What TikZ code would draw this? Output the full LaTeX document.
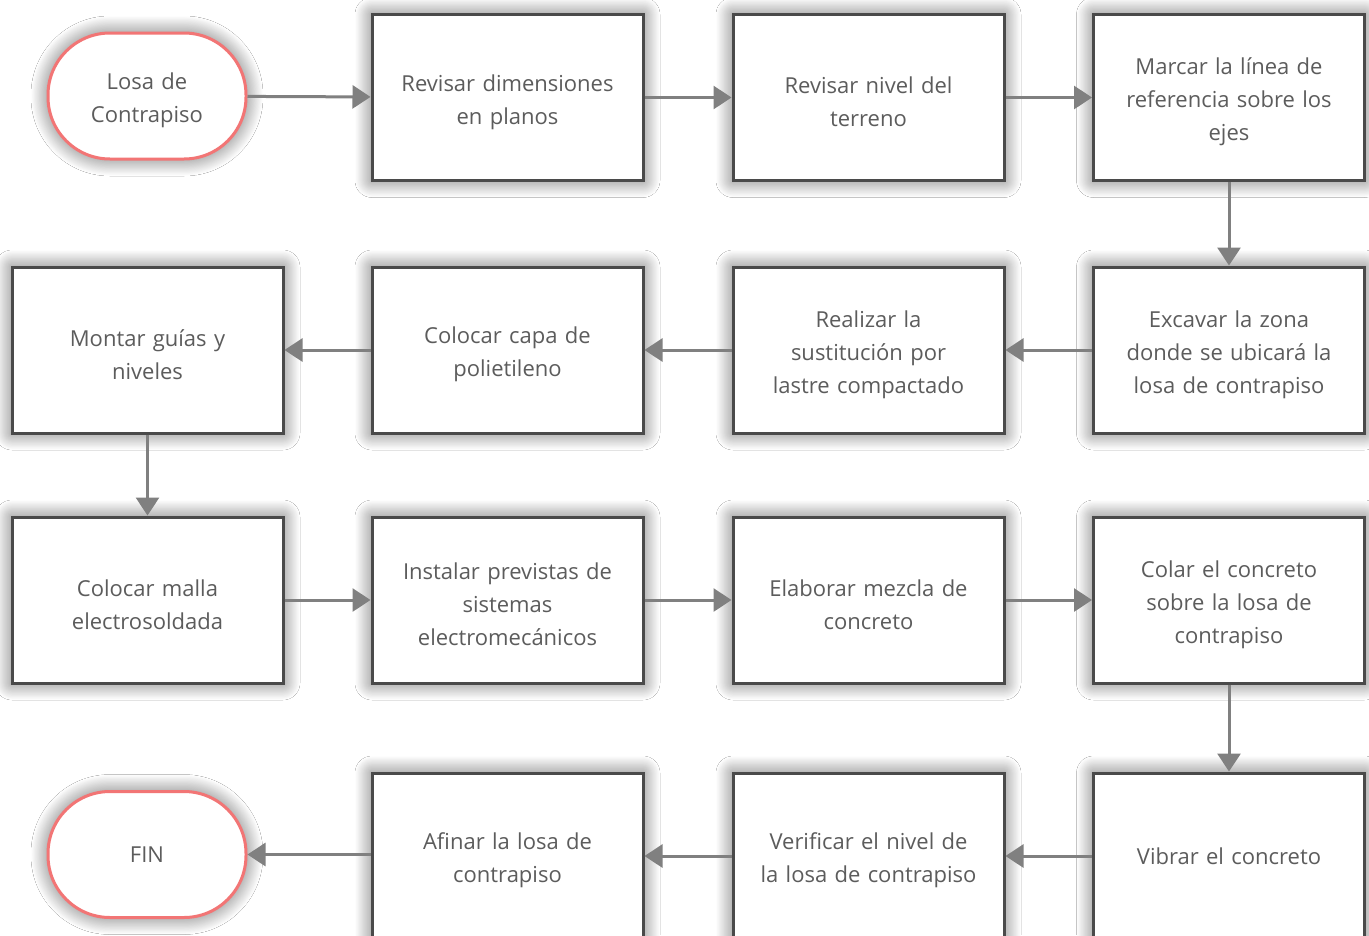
\documentclass[tikz,border=0pt]{standalone}
\usepackage{fontspec}
\setmainfont{Open Sans}
\usetikzlibrary{arrows.meta,shadows.blur}
\definecolor{boxline}{HTML}{4A4A4A}
\definecolor{txt}{HTML}{5C5C5C}
\definecolor{arr}{HTML}{808080}
\definecolor{term}{HTML}{F27575}
\begin{document}
\begin{tikzpicture}[x=1pt,y=-1pt,
  softshadow/.style={blur shadow={shadow xshift=0pt, shadow yshift=0pt, shadow blur radius=17pt,
    shadow blur steps=30, shadow opacity=60}},
  basebox/.style={draw=boxline, line width=3pt, fill=white, minimum width=271pt, minimum height=166pt,
    text width=262pt, align=center, inner sep=0pt, text=txt, font=\fontsize{22}{33}\selectfont, softshadow},
  stepbox/.style={basebox, execute at begin node={\rule{0pt}{26pt}}},
  endbox/.style={draw=term, line width=3pt, fill=white, minimum width=198pt, minimum height=126pt,
    rounded corners=62pt, text width=180pt, align=center, inner sep=0pt, text=txt,
    font=\fontsize{22}{33}\selectfont, softshadow},
  flow/.style={draw=arr, line width=3pt, -{Triangle[length=18pt,width=23pt]}}]
\useasboundingbox (0,0) rectangle (1369,935);
\fill[white] (0,0) rectangle (1369,935);
\begin{scope}
\clip (0,0) rectangle (1369,935);
% first row
\node[endbox, execute at begin node={\rule{0pt}{26pt}}] (s) at (147,96) {Losa de\\Contrapiso};
\node[stepbox] (a1) at (507.5,97.5) {Revisar dimensiones\\en planos};
\node[stepbox] (a2) at (868.5,97.5) {Revisar nivel del\\terreno};
\node[stepbox] (a3) at (1229,97.5)  {Marcar la línea de\\referencia sobre los\\ejes};
% second row
\node[stepbox] (b1) at (1229,350)   {Excavar la zona\\donde se ubicará la\\losa de contrapiso};
\node[stepbox] (b2) at (868.5,350)  {Realizar la\\sustitución por\\lastre compactado};
\node[stepbox] (b3) at (507.5,350)  {Colocar capa de\\polietileno};
\node[stepbox] (b4) at (147.5,350)  {Montar guías y\\niveles};
% third row
\node[stepbox] (c1) at (147.5,600) {Colocar malla\\electrosoldada};
\node[stepbox] (c2) at (507.5,600) {Instalar previstas de\\sistemas\\electromecánicos};
\node[stepbox] (c3) at (868.5,600) {Elaborar mezcla de\\concreto};
\node[stepbox] (c4) at (1229,600)  {Colar el concreto\\sobre la losa de\\contrapiso};
% fourth row
\node[basebox] (d1) at (1229,856)   {Vibrar el concreto};
\node[stepbox] (d2) at (868.5,856)  {Verificar el nivel de\\la losa de contrapiso};
\node[stepbox] (d3) at (507.5,856)  {Afinar la losa de\\contrapiso};
\node[endbox]  (e)  at (147,854.5)  {FIN};
% connectors
\draw[flow] (s)  -- (a1);
\draw[flow] (a1) -- (a2);
\draw[flow] (a2) -- (a3);
\draw[flow] (a3) -- (b1);
\draw[flow] (b1) -- (b2);
\draw[flow] (b2) -- (b3);
\draw[flow] (b3) -- (b4);
\draw[flow] (b4) -- (c1);
\draw[flow] (c1) -- (c2);
\draw[flow] (c2) -- (c3);
\draw[flow] (c3) -- (c4);
\draw[flow] (c4) -- (d1);
\draw[flow] (d1) -- (d2);
\draw[flow] (d2) -- (d3);
\draw[flow] (d3.west |- e.east) -- (e.east);
\end{scope}
\end{tikzpicture}
\end{document}
